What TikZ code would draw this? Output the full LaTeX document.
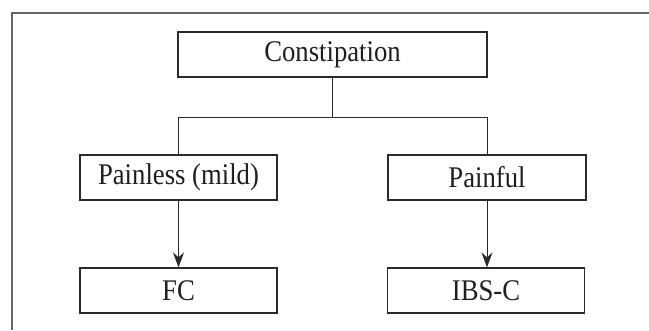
\documentclass[tikz,border=0pt]{standalone}
\usepackage{fontspec}
\setmainfont{Liberation Serif}[FakeStretch=0.89]
\usetikzlibrary{arrows.meta}
\definecolor{framegray}{HTML}{666666}
\definecolor{boxline}{HTML}{2A2A2A}
\tikzset{
  x=1pt, y=1pt,
  box/.style={draw=boxline, line width=1.2pt, minimum height=45pt, inner sep=0pt,
    font=\fontsize{30}{34}\selectfont, text=black!88},
  conn/.style={draw=boxline, line width=0.9pt},
  arr/.style={conn, -{Stealth[length=15pt, width=11pt, inset=5pt]}},
}
\begin{document}
\begin{tikzpicture}
\useasboundingbox (0,0) rectangle (649,330);
\draw[framegray, line width=1.3pt] (12,0) -- (12,317) -- (649,317);
\node[box, minimum width=309pt] (c) at (332.5,275.5) {Constipation};
\node[box, minimum width=197pt] (p1) at (178.5,152.5) {Painless (mild)};
\node[box, minimum width=198pt] (p2) at (487,152.5) {Painful};
\node[box, minimum width=197pt] (fc) at (178.5,39.5) {FC};
\node[box, minimum width=197pt] (ibs) at (486,39.5) {IBS-C};
\coordinate (j) at (332.5,213);
\draw[conn] (c.south) -- (j);
\draw[conn] (j) -| (p1.north);
\draw[conn] (j) -| (p2.north);
\draw[arr] (p1.south) -- (fc.north);
\draw[arr] (p2.south) -- (p2.south |- ibs.north);
\end{tikzpicture}
\end{document}
